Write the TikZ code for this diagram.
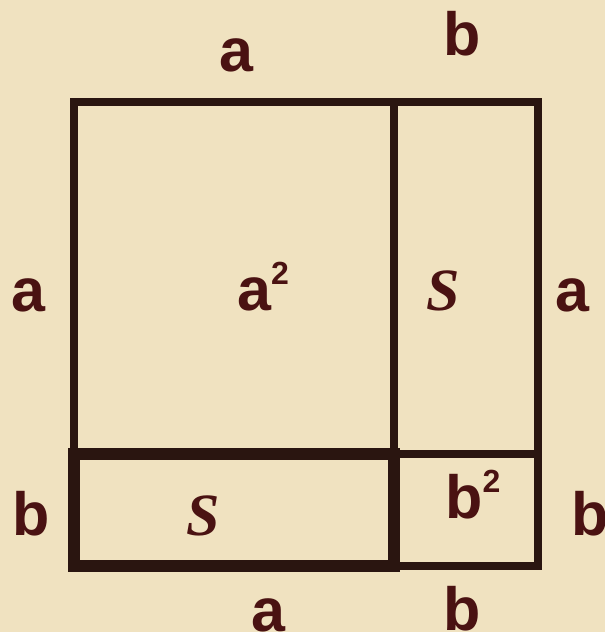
\documentclass[tikz,border=0pt]{standalone}
\usepackage{fontspec}
\setmainfont{Liberation Sans}
\newfontfamily\sfont{Liberation Serif}
\definecolor{paper}{HTML}{F0E2C0}
\definecolor{ink}{HTML}{2A1510}
\definecolor{lab}{HTML}{4A1212}
\tikzset{
  thinline/.style={draw=ink, line width=8pt},
  thickline/.style={draw=ink, line width=12pt},
  lbl/.style={inner sep=0pt, anchor=base, text=lab, font=\fontsize{61}{61}\selectfont\bfseries},
  slbl/.style={inner sep=0pt, anchor=base, text=lab, font=\fontsize{60}{60}\selectfont\sfont\bfseries\itshape}
}
\newcommand{\sqr}[1]{#1\raisebox{0.42em}{\fontsize{32}{32}\selectfont 2}}
\begin{document}
\begin{tikzpicture}[x=1pt,y=-1pt]
\useasboundingbox (0,0) rectangle (605,632);
\fill[paper] (0,0) rectangle (605,632);
% lines
\draw[thinline] (74,102) rectangle (538,566);
\draw[thinline] (394,102) -- (394,454);
\draw[thinline] (394,454) -- (538,454);
\draw[thickline] (74,454) rectangle (394,566);
% labels
\node[lbl] (ta) at (236,71) {a};
\node[lbl] (tb) at (462,55) {b};
\node[lbl] (la) at (28,311) {a};
\node[lbl] (ra) at (572,311) {a};
\node[lbl] (lb) at (31,535) {b};
\node[lbl] (rb) at (590,535) {b};
\node[lbl] (ba) at (268,631) {a};
\node[lbl] (bb) at (462,630) {b};
\node[lbl] (a2) at (263,310) {\sqr{a}};
\node[lbl] (b2) at (473,518) {\sqr{b}};
\node[slbl] (sr) at (443,310) {S};
\node[slbl] (sb) at (203,535) {S};
\end{tikzpicture}
\end{document}
